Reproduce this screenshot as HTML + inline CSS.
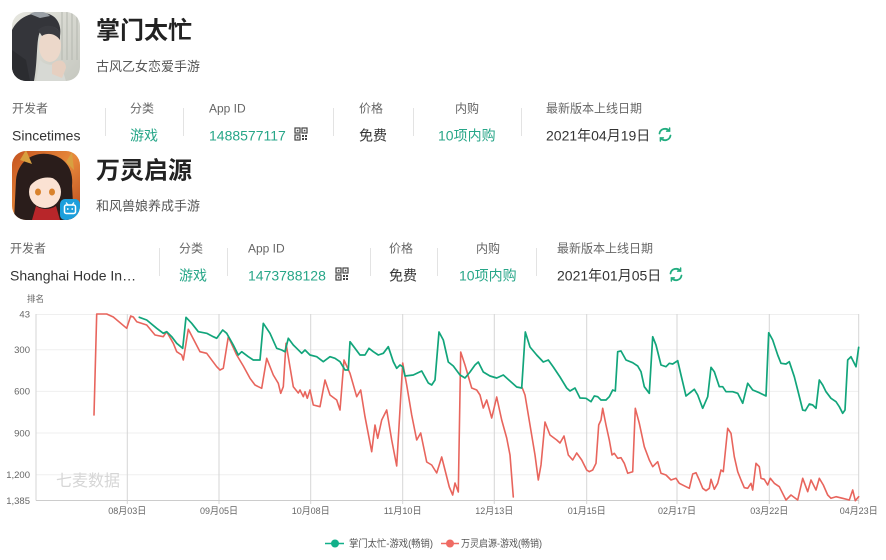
<!DOCTYPE html>
<html><head><meta charset="utf-8">
<style>
html,body{margin:0;padding:0;background:#fff;width:886px;height:560px;overflow:hidden}
svg{display:block}
text{font-family:"Liberation Sans","Noto Sans CJK SC",sans-serif}
.cjk{font-family:"Liberation Sans","Noto Sans CJK SC",sans-serif}
</style></head>
<body>
<svg width="886" height="560" viewBox="0 0 886 560" xmlns="http://www.w3.org/2000/svg">
<defs>
  <clipPath id="ic1"><rect x="12" y="12" width="68" height="69" rx="14" ry="14"/></clipPath>
  <clipPath id="ic2"><rect x="12" y="151" width="68" height="69" rx="14" ry="14"/></clipPath>
  <linearGradient id="bg1" x1="0" y1="0" x2="1" y2="1"><stop offset="0" stop-color="#e6e6df"/><stop offset="1" stop-color="#c6c8c0"/></linearGradient>
  <linearGradient id="bg2" x1="0" y1="0" x2="1" y2="1"><stop offset="0" stop-color="#c4521e"/><stop offset="0.5" stop-color="#e88a3c"/><stop offset="1" stop-color="#b8481c"/></linearGradient>
</defs>

<!-- ICON 1 -->
<g clip-path="url(#ic1)">
  <rect x="12" y="12" width="68" height="69" fill="url(#bg1)"/>
  <g stroke="#b9bcb4" stroke-width="1.2">
    <line x1="62" y1="12" x2="62" y2="60"/><line x1="67" y1="12" x2="67" y2="60"/><line x1="72" y1="12" x2="72" y2="60"/><line x1="77" y1="12" x2="77" y2="60"/>
  </g>
  <path d="M12,81 L12,30 C18,18 30,12 44,13 C56,14 62,24 60,36 L58,30 C52,24 44,26 40,32 C36,40 38,60 34,81 Z" fill="#34353a"/>
  <path d="M30,14 C36,10 46,11 50,16 L40,18 Z" fill="#9aa0a6"/>
  <ellipse cx="50" cy="46" rx="11" ry="16" fill="#ecd8ca"/>
  <path d="M38,30 C44,24 54,24 60,32 L60,40 C56,34 48,32 42,36 Z" fill="#3a3b40"/>
  <path d="M36,81 L40,60 C46,66 54,66 60,62 L66,81 Z" fill="#d7d9d4"/>
  <path d="M52,64 C58,58 66,60 66,68 L62,78 L52,74 Z" fill="#e6cfc0"/>
  <path d="M12,81 L12,50 L26,60 L30,81 Z" fill="#2b2c30"/>
</g>

<!-- ICON 2 -->
<g clip-path="url(#ic2)">
  <rect x="12" y="151" width="68" height="69" fill="url(#bg2)"/>
  <path d="M14,220 L16,180 C18,160 34,152 48,154 C64,156 74,168 72,186 L74,220 Z" fill="#2a1d1b"/>
  <path d="M20,160 L26,150 L32,164 Z" fill="#d8a040"/>
  <path d="M66,162 L72,152 L74,170 Z" fill="#d8a040"/>
  <ellipse cx="45" cy="192" rx="16" ry="16" fill="#fbe2d3"/>
  <path d="M28,184 C32,170 58,168 62,184 L58,180 C50,176 38,176 30,186 Z" fill="#2a1d1b"/>
  <ellipse cx="38" cy="192" rx="3" ry="3.5" fill="#d9822c"/>
  <ellipse cx="52" cy="192" rx="3" ry="3.5" fill="#d9822c"/>
  <path d="M32,220 L36,206 C42,210 50,210 56,206 L60,220 Z" fill="#b8262a"/>
  <rect x="60" y="199" width="20" height="21" rx="5" fill="#1c9fdc"/>
  <rect x="64.5" y="205" width="11" height="8.5" rx="1.8" fill="none" stroke="#fff" stroke-width="1.5"/>
  <line x1="66" y1="202.5" x2="68" y2="205" stroke="#fff" stroke-width="1.2"/>
  <line x1="74" y1="202.5" x2="72" y2="205" stroke="#fff" stroke-width="1.2"/>
  <line x1="67.8" y1="208" x2="67.8" y2="210" stroke="#fff" stroke-width="1.2"/>
  <line x1="72.2" y1="208" x2="72.2" y2="210" stroke="#fff" stroke-width="1.2"/>
</g>

<!-- APP 1 HEADER -->
<text x="96" y="38.5" font-size="24" font-weight="bold" fill="#222">掌门太忙</text>
<text x="96" y="71" font-size="13" fill="#555">古风乙女恋爱手游</text>

<g font-size="12" fill="#666">
  <text x="12" y="112.5">开发者</text>
  <text x="130" y="112.5">分类</text>
  <text x="209" y="112.5">App ID</text>
  <text x="359" y="112.5">价格</text>
  <text x="455" y="112.5">内购</text>
  <text x="546" y="112.5">最新版本上线日期</text>
</g>
<g font-size="14">
  <text x="12" y="140.5" fill="#333">Sincetimes</text>
  <text x="130" y="140.5" fill="#27a688">游戏</text>
  <text x="209" y="140.5" fill="#27a688">1488577117</text>
  <text x="359" y="140.5" fill="#333">免费</text>
  <text x="438" y="140.5" fill="#27a688">10项内购</text>
  <text x="546" y="140.5" fill="#333">2021年04月19日</text>
</g>
<g stroke="#e3e3e3" stroke-width="1">
  <line x1="105.5" y1="108" x2="105.5" y2="136"/>
  <line x1="183.5" y1="108" x2="183.5" y2="136"/>
  <line x1="333.5" y1="108" x2="333.5" y2="136"/>
  <line x1="413.5" y1="108" x2="413.5" y2="136"/>
  <line x1="521.5" y1="108" x2="521.5" y2="136"/>
</g>
<!-- QR 1 -->
<g transform="translate(295,128)">
  <rect x="0" y="0" width="5" height="5" fill="none" stroke="#444" stroke-width="1.2"/>
  <rect x="7" y="0" width="5" height="5" fill="none" stroke="#444" stroke-width="1.2"/>
  <rect x="0" y="7" width="5" height="5" fill="none" stroke="#444" stroke-width="1.2"/>
  <rect x="1.8" y="1.8" width="1.6" height="1.6" fill="#444"/>
  <rect x="8.8" y="1.8" width="1.6" height="1.6" fill="#444"/>
  <rect x="1.8" y="8.8" width="1.6" height="1.6" fill="#444"/>
  <rect x="7" y="7" width="2" height="2" fill="#444"/>
  <rect x="10" y="7" width="2" height="2" fill="#444"/>
  <rect x="7" y="10" width="2" height="2" fill="#444"/>
  <rect x="10" y="10" width="2" height="2" fill="#444"/>
</g>
<!-- refresh 1 -->
<g transform="translate(665,134.5)" fill="none" stroke="#22ad80" stroke-width="1.8" stroke-linecap="round">
  <path d="M-5.5,-1 A5.6,5.6 0 0 1 4.2,-3.8"/>
  <path d="M5.5,1 A5.6,5.6 0 0 1 -4.2,3.8"/>
  <path d="M4.6,-6.5 L4.6,-3.4 L1.6,-3.4" stroke-width="1.5"/>
  <path d="M-4.6,6.5 L-4.6,3.4 L-1.6,3.4" stroke-width="1.5"/>
</g>

<!-- APP 2 HEADER -->
<text x="96" y="178.5" font-size="24" font-weight="bold" fill="#222">万灵启源</text>
<text x="96" y="210.5" font-size="13" fill="#555">和风兽娘养成手游</text>

<g font-size="12" fill="#666">
  <text x="10" y="252.5">开发者</text>
  <text x="179" y="252.5">分类</text>
  <text x="248" y="252.5">App ID</text>
  <text x="389" y="252.5">价格</text>
  <text x="476" y="252.5">内购</text>
  <text x="557" y="252.5">最新版本上线日期</text>
</g>
<g font-size="14">
  <text x="10" y="280.5" fill="#333">Shanghai Hode In…</text>
  <text x="179" y="280.5" fill="#27a688">游戏</text>
  <text x="248" y="280.5" fill="#27a688">1473788128</text>
  <text x="389" y="280.5" fill="#333">免费</text>
  <text x="459" y="280.5" fill="#27a688">10项内购</text>
  <text x="557" y="280.5" fill="#333">2021年01月05日</text>
</g>
<g stroke="#e3e3e3" stroke-width="1">
  <line x1="159.5" y1="248" x2="159.5" y2="276"/>
  <line x1="227.5" y1="248" x2="227.5" y2="276"/>
  <line x1="370.5" y1="248" x2="370.5" y2="276"/>
  <line x1="437.5" y1="248" x2="437.5" y2="276"/>
  <line x1="536.5" y1="248" x2="536.5" y2="276"/>
</g>
<g transform="translate(336,268)">
  <rect x="0" y="0" width="5" height="5" fill="none" stroke="#444" stroke-width="1.2"/>
  <rect x="7" y="0" width="5" height="5" fill="none" stroke="#444" stroke-width="1.2"/>
  <rect x="0" y="7" width="5" height="5" fill="none" stroke="#444" stroke-width="1.2"/>
  <rect x="1.8" y="1.8" width="1.6" height="1.6" fill="#444"/>
  <rect x="8.8" y="1.8" width="1.6" height="1.6" fill="#444"/>
  <rect x="1.8" y="8.8" width="1.6" height="1.6" fill="#444"/>
  <rect x="7" y="7" width="2" height="2" fill="#444"/>
  <rect x="10" y="7" width="2" height="2" fill="#444"/>
  <rect x="7" y="10" width="2" height="2" fill="#444"/>
  <rect x="10" y="10" width="2" height="2" fill="#444"/>
</g>
<g transform="translate(676,274.5)" fill="none" stroke="#22ad80" stroke-width="1.8" stroke-linecap="round">
  <path d="M-5.5,-1 A5.6,5.6 0 0 1 4.2,-3.8"/>
  <path d="M5.5,1 A5.6,5.6 0 0 1 -4.2,3.8"/>
  <path d="M4.6,-6.5 L4.6,-3.4 L1.6,-3.4" stroke-width="1.5"/>
  <path d="M-4.6,6.5 L-4.6,3.4 L-1.6,3.4" stroke-width="1.5"/>
</g>

<!-- CHART -->
<text x="27" y="302" font-size="9" fill="#666" textLength="17" lengthAdjust="spacingAndGlyphs">排名</text>

<g stroke="#efefef" stroke-width="1">
  <line x1="36" y1="314.5" x2="859" y2="314.5"/>
  <line x1="36" y1="349.7" x2="859" y2="349.7"/>
  <line x1="36" y1="391.4" x2="859" y2="391.4"/>
  <line x1="36" y1="433" x2="859" y2="433"/>
  <line x1="36" y1="474.7" x2="859" y2="474.7"/>
</g>
<g stroke="#d6d6d6" stroke-width="1">
  <line x1="36" y1="314" x2="36" y2="500.5"/>
  <line x1="127.3" y1="314" x2="127.3" y2="504"/>
  <line x1="219" y1="314" x2="219" y2="504"/>
  <line x1="310.7" y1="314" x2="310.7" y2="504"/>
  <line x1="402.7" y1="314" x2="402.7" y2="504"/>
  <line x1="494.3" y1="314" x2="494.3" y2="504"/>
  <line x1="586.7" y1="314" x2="586.7" y2="504"/>
  <line x1="677" y1="314" x2="677" y2="504"/>
  <line x1="769.3" y1="314" x2="769.3" y2="504"/>
  <line x1="858.7" y1="314" x2="858.7" y2="504"/>
</g>
<line x1="36" y1="500.5" x2="859" y2="500.5" stroke="#cccccc" stroke-width="1"/>

<g font-size="9.5" fill="#666" text-anchor="end">
  <text x="30" y="317.5">43</text>
  <text x="30" y="353">300</text>
  <text x="30" y="394.7">600</text>
  <text x="30" y="436.3">900</text>
  <text x="30" y="478">1,200</text>
  <text x="30" y="504">1,385</text>
</g>

<g font-size="9.5" fill="#666" text-anchor="middle">
  <text x="127.3" y="514" textLength="38" lengthAdjust="spacingAndGlyphs">08月03日</text>
  <text x="219" y="514" textLength="38" lengthAdjust="spacingAndGlyphs">09月05日</text>
  <text x="310.7" y="514" textLength="38" lengthAdjust="spacingAndGlyphs">10月08日</text>
  <text x="402.7" y="514" textLength="38" lengthAdjust="spacingAndGlyphs">11月10日</text>
  <text x="494.3" y="514" textLength="38" lengthAdjust="spacingAndGlyphs">12月13日</text>
  <text x="586.7" y="514" textLength="38" lengthAdjust="spacingAndGlyphs">01月15日</text>
  <text x="677" y="514" textLength="38" lengthAdjust="spacingAndGlyphs">02月17日</text>
  <text x="769.3" y="514" textLength="38" lengthAdjust="spacingAndGlyphs">03月22日</text>
  <text x="858.7" y="514" textLength="38" lengthAdjust="spacingAndGlyphs">04月23日</text>
</g>

<text x="56" y="486" font-size="16" fill="#d6d6d6" textLength="64" lengthAdjust="spacingAndGlyphs">七麦数据</text>

<!-- red series -->
<g fill="none" stroke="#e8655d" stroke-width="1.6" stroke-linejoin="round" stroke-linecap="round">
<polyline points="94,415 96.7,314 106.7,314 113.3,317 126.7,328.3 130.7,316 133.3,317 136.7,321.7 146.7,325 155,335 163.3,336.7 166.7,331.7 173.3,343.3 176.7,351.7 181.7,355 183.3,360 188.3,329.3 200,351.7 206.7,353.3 216.7,366.7 220,370 223.3,368.3 228.3,336.7 236.7,355 243.3,366 250,378.3 255,385 258.3,386.7 261.7,388.3 266.7,358.3 273.3,375 278.3,383.3 280.7,393.3 283.3,386.7 286,343.3 293.3,386.7 298.3,393 300,390 303.3,396.7 305,391.7 307.3,398.3 310,390 313.3,405 320,406.7 325,380 330,395 336.7,400 340,410 344,360 350,373.3 356.7,396.7 360.7,390 365,416.7 371.7,451.7 375,425 377.7,438.3 381.7,420 386.7,410 391.7,440 396.7,466 402.7,363 406.7,385 411.7,415 416.7,440 420.7,433 426.7,462 431.7,465 436.7,473 441.7,457 445,470 449.3,487 452.7,495 455,483 458.3,492 460.7,352 465,365 471.7,388 476.7,390 480,395 483.3,408 486.7,400 491.7,418 496.7,397 501.7,420 506.7,438 510,455 513.3,497"/>
<polyline points="522.3,388 525,395 530,425 535,455 538.3,480 541,465 545,422 550,435 556.7,440 560,443 564,436 568.3,455 572.7,460 576.7,453 581.7,460 586.7,470 589.3,471.7 592.7,470 596,463.3 598.7,425 601,420 602.7,408.3 606,425 609.3,440 612,455 614.3,453.3 617.7,458.3 621,457.7 624.3,463.3 627.7,473.3 632.7,471.7 635.3,408.3 639.3,423.3 644.3,446.7 649.3,460 652.7,466.7 657.7,461.7 661,473.3 666,475 671,480 676,478.3 679.3,483.3 686,486.7 689.3,488.3 692.7,474 696,472.7 699.3,480 702.7,488.3 706,490.7 709.3,488.3 711,479.3 714.3,489.3 717.7,483.3 721,470 723.3,471.7 727.7,428.3 731,433.3 734.3,456.7 737.7,471.7 741,480 744.3,487.7 747.7,488.3 751,483.3 752.7,490 756,463.3 759.3,466.7 761,478.3 764.3,479.3 767.7,485 770.3,478.3 774.3,483.3 779.3,486.7 786,500 791,495 797.7,500 802.7,478.3 807.7,491.7 811,480 816,490 819.3,478.3 823.3,485 827.7,495 831,498.3 836,496.7 842.7,498.3 849.3,500 852.7,490 855.3,500.7 858.7,496.7"/>
</g>

<!-- green series -->
<polyline fill="none" stroke="#12a57b" stroke-width="1.7" stroke-linejoin="round" stroke-linecap="round" points="139.3,317.3 146.7,320 156.7,328.3 163.3,333.3 166.7,331.7 171.7,336.7 176.7,343.3 182.7,348.3 186,317.3 191.7,323.3 198.3,331.7 206.7,333.3 213.3,336.7 216.7,338.3 222.7,330 226.7,333.3 233.3,345 238.3,355 241.7,351.7 248.3,356.7 253.3,360 260,360 263.3,323.3 270,333.3 276.7,348.3 281.7,350 285,351.7 288.3,338.3 293.3,345 296.7,348.3 301.7,353.3 305,350 310,355 316.7,356.7 323.3,361.7 330,356.7 335,358.3 340,361.7 345,370 348.3,370 350,341.7 355,348.3 360,355 365,355 369,348.3 373.3,351.7 378.3,355 383.3,353.3 388.3,346.7 393.3,361.7 396.7,368.3 400,365 402.7,366.7 405,376 413.3,375 421.7,371 428.3,383 431.7,385 435,380 439,332 443.3,340 448.3,362 453.3,366 460,375 465,378 470,372 475,365 478.3,362 483.3,372 490,376 496.7,378 503.3,375 510,381 516.7,387 521.7,388 525.3,332 530,347 536.7,355 543.3,362 548.3,360 553.3,367 560,377 566.7,388 570,391 575,388 580,398 586,398.3 591,401.7 594.3,396 597.7,396.7 601,400 606,400 609.3,396.7 612.7,390 615.3,391 617.7,351.7 621,351 626,360 632.7,362.7 637.7,366 641,371.7 644.3,386.7 649.3,393.3 652.7,336.7 656,345 661,365 666,366.7 669.3,363.3 672.7,364 677.7,360.7 681,375 686,396 689.3,393.3 694.3,389.3 697.7,395 702.7,408.3 707.7,396.7 711,367.3 714.3,371.7 719.3,386.7 722.7,386.7 726,391.7 732.7,391.7 737.7,393.3 742.7,403.3 747.7,383.3 752.7,390 759.3,392.7 766,396 768.7,332.7 772.7,340 777.7,355 781,363.3 786,364 789.3,361.7 794.3,376.7 797.7,390 802.7,410 805.3,410.7 809.3,404 812.7,405 816,408.3 819.3,380 822.7,385 826,391.7 831,398.3 836,401.7 839.3,406.7 842.7,413.3 845,410 847.7,360 851,356.7 856,366.7 858.7,347.3"/>

<!-- LEGEND -->
<line x1="325" y1="543.5" x2="344" y2="543.5" stroke="#12b08a" stroke-width="1.6"/>
<circle cx="335" cy="543.5" r="4" fill="#12b08a"/>
<text x="349" y="547" font-size="10" fill="#555" textLength="84" lengthAdjust="spacingAndGlyphs">掌门太忙-游戏(畅销)</text>
<line x1="441" y1="543.5" x2="459" y2="543.5" stroke="#ef6b63" stroke-width="1.6"/>
<circle cx="450" cy="543.5" r="4" fill="#ef6b63"/>
<text x="461" y="547" font-size="10" fill="#555" textLength="81" lengthAdjust="spacingAndGlyphs">万灵启源-游戏(畅销)</text>
</svg>
</body></html>
